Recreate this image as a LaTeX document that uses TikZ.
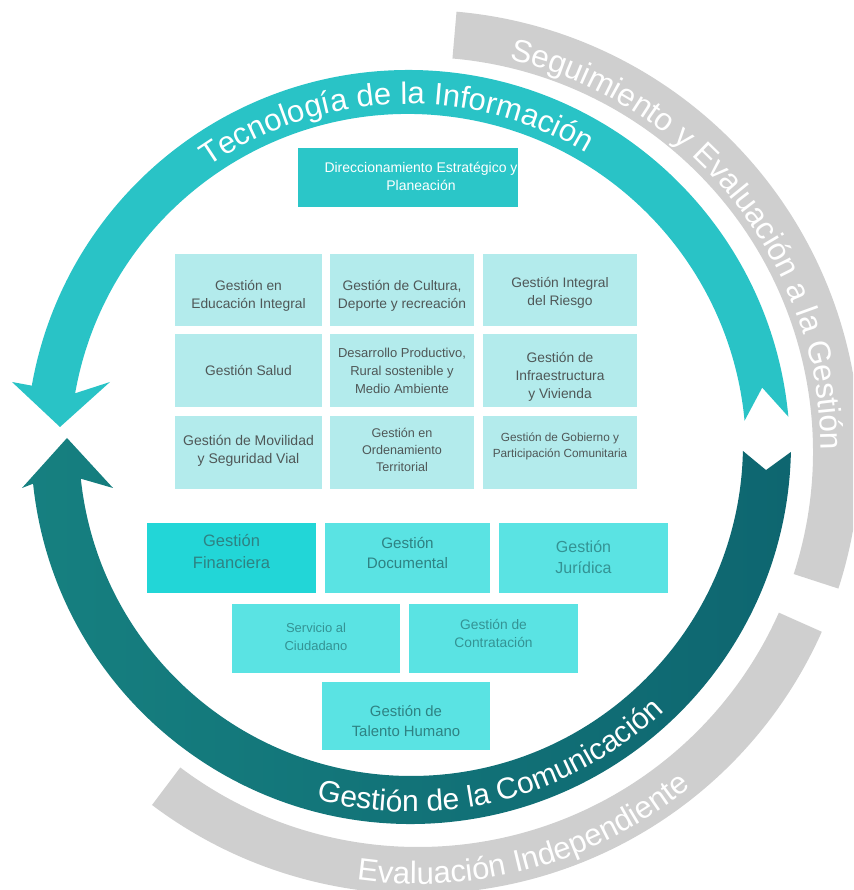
\documentclass[tikz,border=0pt]{standalone}
\usepackage{fontspec}
\setmainfont{Liberation Sans}
\usetikzlibrary{decorations.text,calc}
\definecolor{grayband}{HTML}{CFCFCF}
\definecolor{lightteal}{HTML}{29C3C6}
\definecolor{darktealL}{HTML}{168080}
\definecolor{darktealR}{HTML}{0E6670}
\definecolor{gridbox}{HTML}{B3EBEC}
\definecolor{gridtext}{HTML}{4F5757}
\definecolor{dirbox}{HTML}{2BC6C8}
\definecolor{finbox}{HTML}{22D6D7}
\definecolor{lowbox}{HTML}{5AE3E3}
\definecolor{lowtext}{HTML}{349394}
\definecolor{lowtextdark}{HTML}{2E8283}
\newcommand\bandfont[1]{\fontsize{#1}{#1}\selectfont\color{white}}
\begin{document}
\begin{tikzpicture}[x=1pt,y=1pt,
  cell/.style={fill=gridbox, inner sep=0pt},
  lowcell/.style={fill=lowbox, inner sep=0pt},
  celltxt/.style={text=gridtext, align=center, inner sep=0pt, font=\fontsize{13.8}{18}\selectfont},
  lowtxt/.style={text=lowtext, align=center, inner sep=0pt},
  bandtext/.style={decorate, decoration={text along path, text align=center, text={#1}}}
]
\useasboundingbox (0,0) rectangle (853,890);
\clip (0,0) rectangle (853,890);
\coordinate (GC) at (418,438);
\coordinate (LC) at (408,438);
\coordinate (DC) at (411,446);

% gray outer bands
\fill[grayband] ([shift={(GC)}]85:442pt) arc[start angle=85, end angle=-18, radius=442pt]
  -- ([shift={(GC)}]-18:395pt) arc[start angle=-18, end angle=85, radius=395pt] -- cycle;
\fill[grayband] ([shift={(GC)}]-24:442pt) arc[start angle=-24, end angle=-127, radius=442pt]
  -- ([shift={(GC)}]-127:395pt) arc[start angle=-127, end angle=-24, radius=395pt] -- cycle;

% light teal arrow (top)
\fill[lightteal] ([shift={(LC)}]5.3:382pt) arc[start angle=5.3, end angle=170, radius=382pt]
  -- (12,508) -- (60,463) -- (110,508)
  -- ([shift={(LC)}]170:338pt) arc[start angle=170, end angle=5.3, radius=338pt]
  -- ([shift={(LC)}]10.3:360pt) -- cycle;

% dark teal arrow (bottom)
\shade[left color=darktealL, right color=darktealR]
  ([shift={(DC)}]186:380pt) arc[start angle=186, end angle=358.8, radius=380pt]
  -- ([shift={(DC)}]355.8:356pt) -- ([shift={(DC)}]358.8:332pt)
  arc[start angle=358.8, end angle=186, radius=332pt]
  -- (113,402) -- (67,452) -- (22,402) -- cycle;

% band texts
\path[bandtext={|\bandfont{31}|Tecnología de la Información}]
  ([shift={(LC)}]150.1:348pt) arc[start angle=150.1, end angle=34.1, radius=348pt];
\path[bandtext={|\bandfont{31.5}|Seguimiento y Evaluación a la Gestión}]
  ([shift={(GC)}]98.6:403pt) arc[start angle=98.6, end angle=-21.4, radius=403pt];
\path[bandtext={|\bandfont{30}|Gestión de la Comunicación}]
  ([shift={(DC)}]-135.7:368pt) arc[start angle=-135.7, end angle=-15.7, radius=368pt];
\path[bandtext={|\bandfont{31}|Evaluación Independiente}]
  ([shift={(GC)}]-134.5:432pt) arc[start angle=-134.5, end angle=-14.5, radius=432pt];

% Direccionamiento
\node[fill=dirbox, minimum width=220pt, minimum height=59pt, inner sep=0pt] (dir) at (408,712.5) {};
\node[text=white, align=center, inner sep=0pt, font=\fontsize{14}{18}\selectfont] (dir-t) at (421,714)
  {Direccionamiento Estratégico y\\Planeación};

% grid
\node[cell, minimum width=147pt, minimum height=72pt] (edu) at (248.5,600) {};
\node[cell, minimum width=144pt, minimum height=72pt] (cul) at (402,600) {};
\node[cell, minimum width=154pt, minimum height=72pt] (rie) at (560,600) {};
\node[cell, minimum width=147pt, minimum height=73pt] (sal) at (248.5,519.5) {};
\node[cell, minimum width=144pt, minimum height=73pt] (des) at (402,519.5) {};
\node[cell, minimum width=154pt, minimum height=73pt] (inf) at (560,519.5) {};
\node[cell, minimum width=147pt, minimum height=73pt] (mov) at (248.5,437.5) {};
\node[cell, minimum width=144pt, minimum height=73pt] (ord) at (402,437.5) {};
\node[cell, minimum width=154pt, minimum height=73pt] (gob) at (560,437.5) {};

\node[celltxt] (edu-t) at (248.5,594) {Gestión en\\Educación Integral};
\node[celltxt] (cul-t) at (402,594.5) {Gestión de Cultura,\\Deporte y recreación};
\node[celltxt] (rie-t) at (560,597.5) {Gestión Integral\\del Riesgo};
\node[celltxt] (sal-t) at (248.5,520) {Gestión Salud};
\node[celltxt, font=\fontsize{13}{18}\selectfont] (des-t) at (402,519) {Desarrollo Productivo,\\Rural sostenible y\\Medio Ambiente};
\node[celltxt] (inf-t) at (560,513) {Gestión de\\Infraestructura\\y Vivienda};
\node[celltxt, font=\fontsize{14}{18}\selectfont] (mov-t) at (248.5,439) {Gestión de Movilidad\\y Seguridad Vial};
\node[celltxt, font=\fontsize{12.6}{17}\selectfont] (ord-t) at (402,440) {Gestión en\\Ordenamiento\\Territorial};
\node[celltxt, font=\fontsize{11.8}{15.5}\selectfont] (gob-t) at (560,443.5) {Gestión de Gobierno y\\Participación Comunitaria};

% lower boxes
\node[lowcell, fill=finbox, minimum width=169pt, minimum height=70pt] (fin) at (231.5,332) {};
\node[lowcell, minimum width=165pt, minimum height=70pt] (doc) at (407.5,332) {};
\node[lowcell, minimum width=169pt, minimum height=70pt] (jur) at (583.5,332) {};
\node[lowcell, minimum width=168pt, minimum height=69pt] (ser) at (316,251.5) {};
\node[lowcell, minimum width=169pt, minimum height=69pt] (con) at (493.5,251.5) {};
\node[lowcell, minimum width=168pt, minimum height=68pt] (tal) at (406,174) {};

\node[lowtxt, text=lowtextdark, font=\fontsize{16.5}{22}\selectfont] (fin-t) at (231.5,338) {Gestión\\Financiera};
\node[lowtxt, text=lowtextdark, font=\fontsize{15.2}{20}\selectfont] (doc-t) at (407.5,337) {Gestión\\Documental};
\node[lowtxt, font=\fontsize{16}{21}\selectfont] (jur-t) at (583.5,332.5) {Gestión\\Jurídica};
\node[lowtxt, font=\fontsize{13}{18}\selectfont] (ser-t) at (316,253) {Servicio al\\Ciudadano};
\node[lowtxt, font=\fontsize{13.8}{18}\selectfont] (con-t) at (493.5,257) {Gestión de\\Contratación};
\node[lowtxt, text=lowtextdark, font=\fontsize{14.9}{20}\selectfont] (tal-t) at (406,169) {Gestión de\\Talento Humano};
\end{tikzpicture}
\end{document}
